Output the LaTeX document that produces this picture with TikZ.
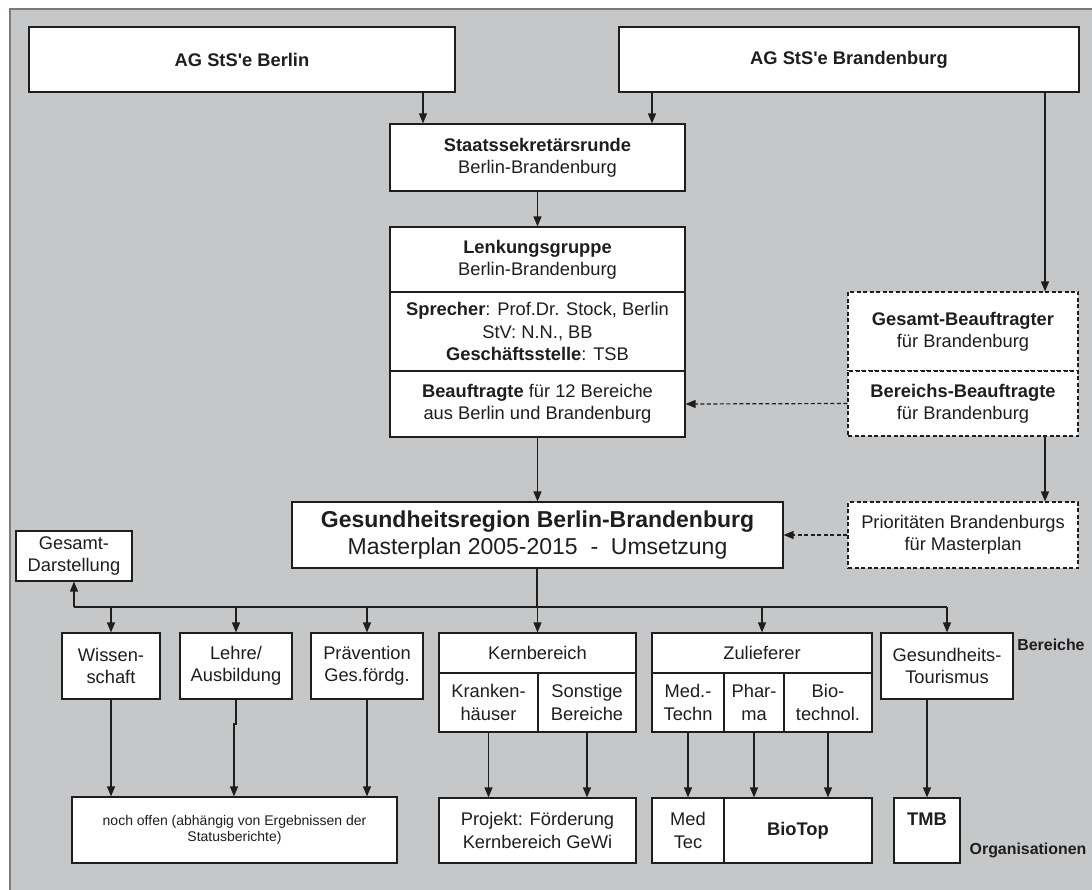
\documentclass[tikz,border=0pt]{standalone}
\usepackage{fontspec}
\setmainfont{Liberation Sans}
\usetikzlibrary{arrows.meta}
\definecolor{bg}{HTML}{C6C7C9}
\definecolor{frm}{HTML}{7A7A7A}
\definecolor{ink}{HTML}{1E1E1E}
\newcommand\myN{\fontsize{18.3}{22.4}\selectfont}
\newcommand\myB{\fontsize{23}{27}\selectfont}
\newcommand\myS{\fontsize{14}{15.5}\selectfont}
\newcommand\myL{\fontsize{15.9}{18}\selectfont\bfseries}
\newcommand\bx[7][]{\node[nbox,#1,minimum width={(#5-#3)*1pt},minimum height={(#6-#4)*1pt}] (#2) at ({(#3+#5)/2},{(#4+#6)/2}) {#7};}
\begin{document}
\begin{tikzpicture}[x=1pt,y=-1pt,
  nbox/.style={draw=ink, fill=white, line width=1.15pt, inner sep=0pt, align=center, text=ink, font=\myN},
  dbox/.style={dash pattern=on 4pt off 2.5pt, line width=1.1pt},
  arr/.style={-{Triangle[length=10pt,width=8pt]}, line width=1.2pt, draw=ink},
  darr/.style={arr, dash pattern=on 4pt off 2.5pt},
  lbl/.style={text=ink, font=\myL, inner sep=0pt}]
\useasboundingbox (0,0) rectangle (1092,890);
\fill[bg] (10,9) rectangle (1092,890);
\draw[frm,line width=1.4pt] (10,890) -- (10,9) -- (1092,9);

\bx{berlin}{29}{27}{455}{92}{\textbf{AG StS\textquotesingle e Berlin}}
\bx{brb}{619}{27}{1079}{92}{\textbf{AG StS\textquotesingle e Brandenburg}}
\bx{staats}{390}{124}{685}{191}{\textbf{Staatssekretärsrunde}\\Berlin-Brandenburg}
\bx{lenkA}{390}{227}{685}{292}{\textbf{Lenkungsgruppe}\\Berlin-Brandenburg}
\bx{lenkB}{390}{292}{685}{371}{\textbf{Sprecher}: Prof.Dr. Stock, Berlin\\StV: N.N., BB\\\textbf{Geschäftsstelle}: TSB}
\bx{lenkC}{390}{371}{685}{437}{\textbf{Beauftragte} für 12 Bereiche\\aus Berlin und Brandenburg}
\bx[dbox]{gesB}{848}{292}{1078}{371}{\textbf{Gesamt-Beauftragter}\\für Brandenburg}
\bx[dbox]{berB}{848}{371}{1078}{436}{\textbf{Bereichs-Beauftragte}\\für Brandenburg}
\bx[font=\myB]{gr}{292}{502}{783}{568}{\textbf{Gesundheitsregion Berlin-Brandenburg}\\Masterplan 2005-2015\ \ -\ \ Umsetzung}
\bx[dbox]{prio}{848}{502}{1078}{568}{Prioritäten Brandenburgs\\für Masterplan}
\bx{gd}{16}{531}{132}{581}{Gesamt-\\Darstellung}
\bx{wiss}{62}{633}{160}{699}{Wissen-\\schaft}
\bx{lehre}{180}{633}{292}{699}{Lehre/\\Ausbildung}
\bx{praev}{311}{633}{423}{699}{Prävention\\Ges.fördg.}
\bx{kern}{439}{633}{636}{673}{Kernbereich}
\bx{kernA}{439}{673}{538}{732}{Kranken-\\häuser}
\bx{kernB}{538}{673}{636}{732}{Sonstige\\Bereiche}
\bx{zul}{652}{633}{872}{673}{Zulieferer}
\bx{zulA}{652}{673}{724}{732}{Med.-\\Techn}
\bx{zulB}{724}{673}{784}{732}{Phar-\\ma}
\bx{zulC}{784}{673}{872}{732}{Bio-\\technol.}
\bx{tour}{881}{633}{1013}{699}{Gesundheits-\\Tourismus}
\bx[font=\myS]{offen}{72}{797}{397}{863}{noch offen (abhängig von Ergebnissen der\\Statusberichte)}
\bx{proj}{439}{798}{636}{863}{Projekt: Förderung\\Kernbereich GeWi}
\bx{medtec}{652}{798}{724}{863}{Med\\Tec}
\bx{biotop}{724}{798}{872}{863}{\textbf{BioTop}}
\bx{tmb}{894}{798}{960}{863}{\textbf{TMB}\\\mbox{}}
\node[lbl] (ber) at (1051,645) {Bereiche};
\node[lbl] (org) at (1028,850) {Organisationen};

\coordinate (xb) at (423,0);
\coordinate (xbr) at (652,0);
\coordinate (xr) at (1045,0);
\draw[arr] (berlin.south -| xb) -- (staats.north -| xb);
\draw[arr] (brb.south -| xbr) -- (staats.north -| xbr);
\draw[arr] (staats.south) -- (lenkA.north);
\draw[arr] (brb.south -| xr) -- (gesB.north -| xr);
\draw[arr] (berB.south -| xr) -- (prio.north -| xr);
\draw[darr] (berB.west) -- (lenkC.east);
\draw[darr] (prio.west) -- (gr.east);
\draw[arr] (lenkC.south) -- (gr.north);

\coordinate (bus) at (537,607);
\draw[ink,line width=2.2pt] (gr.south -| bus) -- (bus);
\draw[ink,line width=1.5pt] (bus -| gd.south) -- (bus -| tour.north);
\draw[arr] (bus -| gd.south) -- (gd.south);
\foreach \n in {wiss,lehre,praev,kern,zul,tour}
  \draw[arr] (bus -| \n.north) -- (\n.north);

\coordinate (jog) at (234,724);
\draw[arr] (wiss.south) -- (wiss.south |- offen.north);
\draw[arr] (lehre.south) -- (lehre.south |- jog) -- (jog) -- (jog |- offen.north);
\draw[arr] (praev.south) -- (praev.south |- offen.north);
\draw[arr] (kernA.south) -- (kernA.south |- proj.north);
\draw[arr] (kernB.south) -- (kernB.south |- proj.north);
\draw[arr] (zulA.south) -- (medtec.north);
\draw[arr] (zulB.south) -- (zulB.south |- biotop.north);
\draw[arr] (zulC.south) -- (zulC.south |- biotop.north);
\draw[arr] (tour.south -| tmb.north) -- (tmb.north);
\end{tikzpicture}
\end{document}
